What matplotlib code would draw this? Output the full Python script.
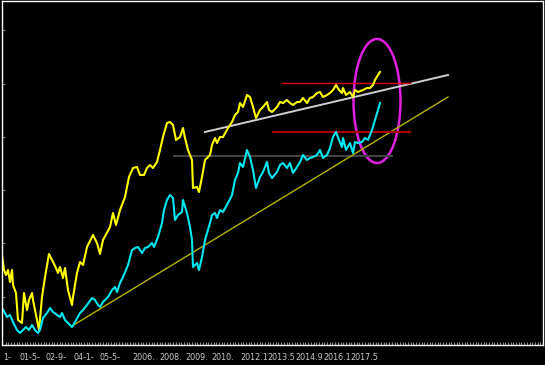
import numpy as np
import matplotlib
matplotlib.use("Agg")
import matplotlib.pyplot as plt
from matplotlib.patches import Ellipse

# yellow series (bar index, value)
yellow_x = [2, 4, 6, 8, 10, 12, 13, 16, 18, 22, 24, 27, 29, 32, 33, 37, 39, 42, 45, 49,
            53, 56, 58, 60, 63, 65, 68, 72, 73, 77, 80, 83, 87, 93, 97, 100, 103, 110, 113, 116,
            120, 125, 127, 129, 133, 137, 140, 144, 147, 150, 153, 157, 160, 163, 167, 170, 173, 176, 180, 183,
            185, 188, 192, 193, 197, 199, 202, 205, 210, 212, 215, 217, 220, 223, 228, 232, 235, 238, 240, 243,
            247, 250, 253, 256, 260, 263, 267, 269, 272, 277, 280, 283, 287, 290, 293, 297, 300, 303, 307, 310,
            313, 317, 320, 323, 327, 330, 333, 336, 339, 342, 343, 346, 350, 353, 355, 358, 363, 367, 370, 373,
            375, 378, 380]
yellow_y = [90, 75, 70, 75, 63, 75, 60, 52, 25, 22, 52, 35, 45, 52, 45, 25, 15, 48, 68, 91,
            83, 77, 72, 78, 67, 77, 55, 40, 48, 72, 83, 80, 98, 110, 102, 91, 105, 118, 132, 120,
            135, 148, 158, 168, 177, 178, 170, 170, 177, 180, 177, 183, 195, 208, 222, 223, 220, 205, 208, 217,
            207, 195, 185, 157, 158, 153, 168, 185, 190, 200, 207, 202, 208, 208, 217, 223, 230, 233, 242, 238,
            250, 248, 238, 227, 235, 238, 243, 235, 233, 238, 243, 242, 245, 242, 240, 243, 243, 247, 242, 247,
            248, 252, 253, 248, 250, 252, 255, 260, 255, 252, 257, 250, 253, 248, 255, 253, 255, 257, 257, 260,
            265, 270, 273]

# cyan series
cyan_x = [2, 5, 7, 10, 13, 17, 20, 23, 26, 29, 32, 35, 38, 40, 43, 47, 50, 53, 57, 60,
          62, 65, 68, 72, 75, 80, 83, 87, 92, 95, 98, 100, 103, 108, 112, 115, 117, 120, 123, 126,
          128, 132, 135, 138, 142, 145, 148, 152, 154, 158, 162, 164, 167, 170, 173, 175, 178, 182, 183, 187,
          190, 192, 193, 197, 199, 202, 205, 210, 212, 215, 217, 220, 223, 228, 232, 235, 238, 240, 243, 247,
          250, 253, 256, 260, 263, 267, 269, 272, 277, 280, 283, 287, 290, 293, 297, 300, 303, 307, 310, 313,
          317, 320, 323, 327, 330, 333, 336, 339, 342, 343, 346, 350, 353, 355, 358, 362, 365, 368, 372, 375,
          378, 380]
cyan_y = [37, 32, 28, 30, 23, 15, 12, 15, 18, 15, 20, 15, 12, 15, 27, 32, 37, 33, 30, 28,
          32, 25, 22, 18, 23, 32, 35, 40, 47, 45, 40, 38, 43, 48, 55, 58, 53, 62, 68, 75,
          80, 95, 97, 98, 92, 97, 98, 102, 98, 108, 122, 135, 145, 150, 147, 125, 130, 133, 145, 132,
          118, 105, 78, 82, 75, 88, 105, 122, 130, 132, 127, 135, 133, 142, 150, 165, 172, 182, 178, 195,
          188, 175, 157, 168, 173, 183, 172, 167, 173, 180, 182, 177, 182, 172, 178, 183, 190, 185, 187, 188,
          190, 195, 187, 190, 197, 208, 213, 205, 198, 207, 195, 202, 192, 203, 202, 203, 207, 205, 215, 225,
          235, 242]

# drawn lines on the chart
support_x, support_y = [72, 448], [19, 248]
upper_x, upper_y = [205, 448], [213, 270]
red_top_x, red_top_y = [282, 410], 262
red_mid_x, red_mid_y = [273, 410], 213
gray_x, gray_y = [174, 392], 189

ytick_vals = [48, 102, 155, 208, 261, 315]
xtick_pos = [3, 19, 46, 74, 100, 132, 159, 185, 211, 240, 267, 295, 323, 350]
xtick_lab = ["1-", "01-5-", "02-9-", "04-1-", "05-5-", "2006.", "2008.", "2009.", "2010.",
             "2012.1", "2013.5", "2014.9", "2016.1", "2017.5"]

fig = plt.figure(figsize=(5.45, 3.65), dpi=100, facecolor="black")
ax = fig.add_axes([2/545, 20/365, 541/545, 344/365], facecolor="black")

ax.plot(gray_x, [gray_y, gray_y], color="#444444", lw=1.4)
ax.plot(support_x, support_y, color="#b4b400", lw=1.0)
ax.plot(upper_x, upper_y, color="#d0d0d0", lw=1.4)
ax.plot(red_top_x, [red_top_y, red_top_y], color="#e00000", lw=1.0)
ax.plot(red_mid_x, [red_mid_y, red_mid_y], color="#a80000", lw=1.6)
ax.plot(yellow_x, yellow_y, color="#ffff00", lw=1.5)
ax.plot(cyan_x, cyan_y, color="#00e8f0", lw=1.5)

ax.add_patch(Ellipse((377, 244), 47, 124, fill=False, edgecolor="#e020e0", lw=1.8))

ax.set_xlim(2, 543)
ax.set_ylim(0, 344)

for s in ax.spines.values():
    s.set_color("white")
    s.set_linewidth(1.0)

ax.set_yticks(ytick_vals)
ax.set_yticklabels([])
ax.tick_params(axis="y", direction="in", length=2, color="#909090", width=0.8)

ax.set_xticks(xtick_pos)
ax.set_xticklabels(xtick_lab, fontsize=5.8, color="#c8c8c8", ha="left",
                   family=["Liberation Sans Narrow", "DejaVu Sans"])
ax.set_xticks(np.arange(3, 543, 2.7), minor=True)
ax.tick_params(axis="x", which="major", length=0, pad=6)
ax.tick_params(axis="x", which="minor", direction="in", length=2, color="#8a8a8a", width=0.8)

fig.savefig("out.png", dpi=100, facecolor="black")
